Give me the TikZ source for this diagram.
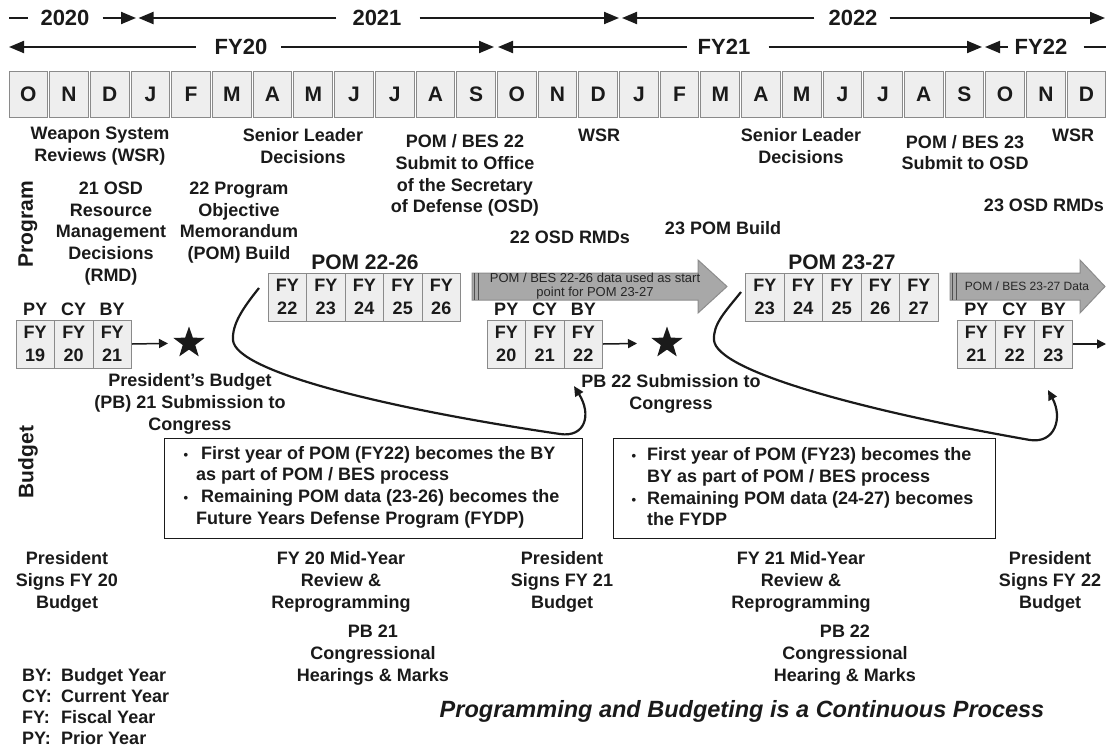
\documentclass[tikz,border=0pt]{standalone}
\usepackage{fontspec}
\setmainfont{Liberation Sans}
\usetikzlibrary{arrows.meta,shapes.geometric}
\definecolor{ink}{HTML}{1A1A1A}
\definecolor{boxfill}{HTML}{EEEEEE}
\definecolor{boxline}{HTML}{8A8A8A}
\definecolor{arrowfill}{HTML}{A8A8A8}
\definecolor{arrowline}{HTML}{8C8C8C}
\definecolor{arrowtext}{HTML}{262626}
\definecolor{darkbar}{HTML}{505050}
\newcommand{\fsz}[2]{\fontsize{#1}{#2}\selectfont}
\begin{document}
\begin{tikzpicture}[x=1pt,y=-1pt,
  txt/.style={font=\fsz{18}{21.7}\bfseries, text=ink, align=center, inner sep=0pt},
  big/.style={font=\fsz{22}{26}\bfseries, text=ink, inner sep=0pt},
  pomhead/.style={font=\fsz{21}{24}\bfseries, text=ink, inner sep=0pt},
  side/.style={font=\fsz{21}{24}\bfseries, text=ink, inner sep=0pt, rotate=90},
  month/.style={draw=boxline, fill=boxfill, line width=1pt, minimum width=38.7pt, minimum height=46pt, inner sep=0pt, font=\fsz{21}{24}\bfseries, text=ink},
  cell/.style={draw=boxline, fill=boxfill, line width=1pt, minimum width=38.5pt, minimum height=48pt, inner sep=0pt, align=center, font=\fsz{18}{23}\bfseries, text=ink},
  tl/.style={line width=2pt, draw=ink},
  tip/.style={-{Triangle[length=15pt,width=12pt]}},
  pbarrow/.style={line width=1.5pt, draw=ink, -{Triangle[length=9pt,width=9pt]}},
  starmark/.style={star, star points=5, star point ratio=2.5, fill=ink, minimum size=33pt, inner sep=0pt},
  curve/.style={line width=2.2pt, draw=ink, -{Triangle[length=10pt,width=9pt]}},
  garrow/.style={fill=arrowfill, draw=arrowline, line width=1pt},
  gtext/.style={text=arrowtext, align=center, inner sep=0pt},
  tbox/.style={draw=ink, line width=1.3pt, inner sep=0pt, anchor=north west}
]
\useasboundingbox (0,0) rectangle (1106,750);
\fill[white] (0,0) rectangle (1106,750);

% ---------- timeline: calendar years ----------
\node[big] (y20) at (65,18) {2020};
\node[big] (y21) at (377,18) {2021};
\node[big] (y22) at (853,18) {2022};
\coordinate (ya) at (9,18);
\coordinate (yb) at (136,18);
\coordinate (yc) at (138.5,18);
\coordinate (yd) at (619,18);
\coordinate (ye) at (622,18);
\coordinate (yf) at (1105,18);
\draw[tl] (ya) -- ([xshift=-12pt]y20.west);
\draw[tl,tip] ([xshift=13pt]y20.east) -- (yb);
\draw[tl,tip] ([xshift=-16pt]y21.west) -- (yc);
\draw[tl,tip] ([xshift=18pt]y21.east) -- (yd);
\draw[tl,tip] ([xshift=-14pt]y22.west) -- (ye);
\draw[tl,tip] ([xshift=12pt]y22.east) -- (yf);

% ---------- timeline: fiscal years ----------
\node[big] (f20) at (241,47) {FY20};
\node[big] (f21) at (724,47) {FY21};
\node[big] (f22) at (1041,47) {FY22};
\coordinate (fa) at (9,47);
\coordinate (fb) at (494,47);
\coordinate (fc) at (498,47);
\coordinate (fd) at (982,47);
\coordinate (fe) at (985,47);
\coordinate (ff) at (1106,47);
\draw[tl,tip] ([xshift=-19pt]f20.west) -- (fa);
\draw[tl,tip] ([xshift=14pt]f20.east) -- (fb);
\draw[tl,tip] ([xshift=-11pt]f21.west) -- (fc);
\draw[tl,tip] ([xshift=18pt]f21.east) -- (fd);
\draw[tl,tip] ([xshift=-7pt]f22.west) -- (fe);
\draw[tl] ([xshift=16pt]f22.east) -- (ff);

% ---------- months ----------
\foreach \m [count=\i from 0] in {O,N,D,J,F,M,A,M,J,J,A,S,O,N,D,J,F,M,A,M,J,J,A,S,O,N,D} {
  \node[month] (mo\i) at ({28.35+40.7*\i},94) {\m};
}

% ---------- program row texts ----------
\node[txt] (wsr1) at (100,146) {Weapon System\\Reviews (WSR)};
\node[txt] (sld1) at (303,146) {Senior Leader\\Decisions};
\node[txt] (sub22) at (465,175.5) {POM / BES 22\\Submit to Office\\of the Secretary\\of Defense (OSD)};
\node[txt] (wsr2) at (599,135) {WSR};
\node[txt] (sld2) at (801,146) {Senior Leader\\Decisions};
\node[txt] (sub23) at (965,152.5) {POM / BES 23\\Submit to OSD};
\node[txt] (wsr3) at (1073,135) {WSR};
\node[txt] (rmd21) at (111,233.5) {21 OSD\\Resource\\Management\\Decisions\\(RMD)};
\node[txt] (build22) at (239,222.5) {22 Program\\Objective\\Memorandum\\(POM) Build};
\node[txt] (rmd22) at (570,237) {22 OSD RMDs};
\node[txt] (build23) at (723,228) {23 POM Build};
\node[txt] (rmd23) at (1044,205) {23 OSD RMDs};

\node[side] (prog) at (28,224) {Program};
\node[side] (budg) at (28,462) {Budget};

% ---------- POM 22-26 ----------
\node[pomhead] (pomh1) at (365,262) {POM 22-26};
\foreach \n [count=\i from 0] in {22,23,24,25,26} {
  \node[cell] (pa\i) at ({287.25+38.5*\i},297) {FY\\\n};
}
% ---------- POM 23-27 ----------
\node[pomhead] (pomh2) at (842,262) {POM 23-27};
\foreach \n [count=\i from 0] in {23,24,25,26,27} {
  \node[cell] (pb\i) at ({764.75+38.5*\i},297) {FY\\\n};
}

% ---------- gray arrows ----------
\filldraw[garrow] (472,273) -- (698,273) -- (698,260) -- (727,286.5) -- (698,313) -- (698,300) -- (472,300) -- cycle;
\draw[line width=1.3pt, draw=darkbar] (474.5,273) -- (474.5,300) (478.5,273) -- (478.5,300);
\node[gtext, font=\fsz{13}{14.5}] (ga1t) at (595,286) {POM / BES 22-26 data used as start\\point for POM 23-27};

\filldraw[garrow] (950,273) -- (1080,273) -- (1080,260) -- (1105,286.5) -- (1080,313) -- (1080,300) -- (950,300) -- cycle;
\draw[line width=1.3pt, draw=darkbar] (952.5,273) -- (952.5,300) (956.5,273) -- (956.5,300);
\node[gtext, font=\fsz{12}{14}] (ga2t) at (1027,286) {POM / BES 23-27 Data};

% ---------- PY CY BY groups ----------
\foreach \g/\x/\a/\b/\c in {l/16/19/20/21, m/487/20/21/22, r/957/21/22/23} {
  \node[cell] (\g1) at ({\x+19.25},344) {FY\\\a};
  \node[cell] (\g2) at ({\x+57.75},344) {FY\\\b};
  \node[cell] (\g3) at ({\x+96.25},344) {FY\\\c};
  \node[txt] (\g1lab) at ([yshift=10pt]\g1.north) {PY};
  \node[txt] (\g2lab) at ([yshift=10pt]\g2.north) {CY};
  \node[txt] (\g3lab) at ([yshift=10pt]\g3.north) {BY};
}

\node[starmark] (st1) at (189,343) {};
\node[starmark] (st2) at (667,343) {};
\coordinate (rend) at (1106,344);
\draw[pbarrow, shorten >=21pt] (l3.east) -- (st1.center);
\draw[pbarrow, shorten >=30pt] (m3.east) -- (st2.center);
\draw[pbarrow] (r3.east) -- (rend);

\node[txt] (pb21s) at (190,404) {President’s Budget\\(PB) 21 Submission to\\Congress};
\node[txt] (pb22s) at (671,394) {PB 22 Submission to\\Congress};

% ---------- curved arrows ----------
\coordinate (cv1a) at (259,288);
\coordinate (cv1b) at (233,340);
\coordinate (cv1c) at (560,434);
\coordinate (cv1d) at (574,386);
\draw[curve] (cv1a) .. controls (243,308) and (232,324) .. (cv1b)
  .. controls (235,372) and (390,409) .. (cv1c)
  .. controls (585,437.7) and (592,415) .. (cv1d);

\coordinate (cv2a) at (741,292);
\coordinate (cv2b) at (714,340);
\coordinate (cv2c) at (1030,440);
\coordinate (cv2d) at (1048,390);
\draw[curve] (cv2a) .. controls (725,312) and (713,324) .. (cv2b)
  .. controls (716,372) and (870,412) .. (cv2c)
  .. controls (1055,443.7) and (1063,418) .. (cv2d);

% ---------- text boxes ----------
\node[tbox, minimum width=418pt, minimum height=100pt] (tb1) at (164,438) {};
\node[txt, align=left, anchor=west] (tb1t) at (196,487) {%
\llap{{\fsz{13}{13}\textbullet}\hspace{8pt}}\ First year of POM (FY22) becomes the BY\\
as part of POM / BES process\\
\llap{{\fsz{13}{13}\textbullet}\hspace{8pt}}\ Remaining POM data (23-26) becomes the\\
Future Years Defense Program (FYDP)};

\node[tbox, minimum width=382pt, minimum height=100pt] (tb2) at (613,438) {};
\node[txt, align=left, anchor=west] (tb2t) at (647,487) {%
\llap{{\fsz{13}{13}\textbullet}\hspace{11pt}}First year of POM (FY23) becomes the\\
BY as part of POM / BES process\\
\llap{{\fsz{13}{13}\textbullet}\hspace{11pt}}Remaining POM data (24-27) becomes\\
the FYDP};

% ---------- budget row texts ----------
\node[txt] (ps20) at (67,582) {President\\Signs FY 20\\Budget};
\node[txt] (my20) at (341,582) {FY 20 Mid-Year\\Review \&\\Reprogramming};
\node[txt] (ps21) at (562,582) {President\\Signs FY 21\\Budget};
\node[txt] (my21) at (801,582) {FY 21 Mid-Year\\Review \&\\Reprogramming};
\node[txt] (ps22) at (1050,582) {President\\Signs FY 22\\Budget};
\node[txt] (ch21) at (373,655) {PB 21\\Congressional\\Hearings \& Marks};
\node[txt] (ch22) at (845,655) {PB 22\\Congressional\\Hearing \& Marks};

\node[txt, font=\fsz{18}{21}\bfseries, align=left, anchor=west] (legend) at (22,707) {%
\makebox[39pt][l]{BY:}Budget Year\\
\makebox[39pt][l]{CY:}Current Year\\
\makebox[39pt][l]{FY:}Fiscal Year\\
\makebox[39pt][l]{PY:}Prior Year};

\node[font=\fsz{23.5}{26}\bfseries\itshape, text=ink, inner sep=0pt] (motto) at (742,711) {Programming and Budgeting is a Continuous Process};
\end{tikzpicture}
\end{document}
